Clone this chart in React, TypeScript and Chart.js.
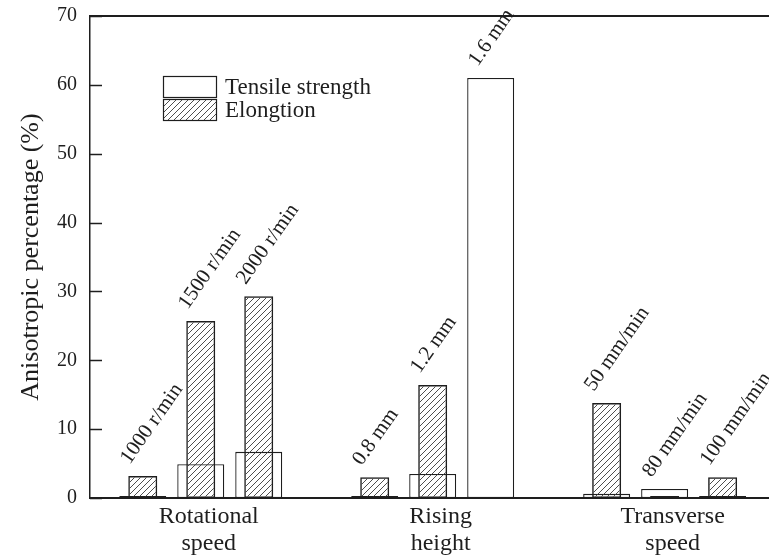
import React, { useEffect, useRef } from 'react';
import { Chart, registerables } from 'chart.js';

Chart.register(...registerables);

// ---- data ----
const groupNames: string[][] = [['Rotational', 'speed'], ['Rising', 'height'], ['Transverse', 'speed']];
const groupCenters = [2, 6, 10];
const barPositions = [1, 2, 3, 5, 6, 7, 9, 10, 11];
const barLabels = ['1000 r/min', '1500 r/min', '2000 r/min', '0.8 mm', '1.2 mm', '1.6 mm', '50 mm/min', '80 mm/min', '100 mm/min'];
const tensileStrength = [0.3, 4.9, 6.7, 0.3, 3.5, 61.0, 0.6, 1.3, 0.3];
const elongation: (number | null)[] = [3.2, 25.7, 29.3, 3.0, 16.4, null, 13.8, 0.3, 3.0];
const yTicks = [0, 10, 20, 30, 40, 50, 60, 70];
const seriesNames = ['Tensile strength', 'Elongtion'];
const yTitle = 'Anisotropic percentage (%)';

const FONT = '"Liberation Serif", "Times New Roman", serif';
const INK = '#1e1e1e';

function makeHatch(ctx: CanvasRenderingContext2D): CanvasPattern | string {
  const p = document.createElement('canvas');
  p.width = 6;
  p.height = 6;
  const c = p.getContext('2d');
  if (!c) return '#999';
  c.strokeStyle = '#3a3a3a';
  c.lineWidth = 0.9;
  c.beginPath();
  c.moveTo(0, 6); c.lineTo(6, 0);
  c.moveTo(-3, 3); c.lineTo(3, -3);
  c.moveTo(3, 9); c.lineTo(9, 3);
  c.stroke();
  return ctx.createPattern(p, 'repeat') || '#999';
}

export default function App() {
  const ref = useRef<HTMLCanvasElement | null>(null);

  useEffect(() => {
    const canvas = ref.current;
    if (!canvas) return;
    const ctx = canvas.getContext('2d');
    if (!ctx) return;
    const hatch = makeHatch(ctx);

    const labelPlugin = {
      id: 'barLabels',
      afterDatasetsDraw(chart: any) {
        const c = chart.ctx;
        const xs = chart.scales.x;
        const ys = chart.scales.y;
        c.save();
        c.font = `21px ${FONT}`;
        c.fillStyle = INK;
        c.textAlign = 'left';
        c.textBaseline = 'alphabetic';
        barLabels.forEach((lab, i) => {
          const top = Math.max(tensileStrength[i] ?? 0, elongation[i] ?? 0);
          const px = xs.getPixelForValue(barPositions[i]);
          const py = ys.getPixelForValue(top);
          c.save();
          c.translate(px - 13, py - 11);
          c.rotate((-55 * Math.PI) / 180);
          c.fillText(lab, 0, 0);
          c.restore();
        });
        c.restore();
      },
    };

    const decorPlugin = {
      id: 'decor',
      afterDraw(chart: any) {
        const c = chart.ctx;
        const ys = chart.scales.y;
        const area = chart.chartArea;
        c.save();
        // inward ticks on y axis
        c.strokeStyle = INK;
        c.lineWidth = 1.5;
        ys.ticks.forEach((t: any) => {
          const y = Math.round(ys.getPixelForValue(t.value)) + 0.5;
          c.beginPath();
          c.moveTo(area.left, y);
          c.lineTo(area.left + 12, y);
          c.stroke();
        });
        // legend
        const lx = area.left + 73;
        const ly = area.top + 60;
        const w = 53;
        const h = 21;
        c.fillStyle = '#ffffff';
        c.fillRect(lx, ly, w, h);
        c.lineWidth = 1.2;
        c.strokeStyle = INK;
        c.strokeRect(lx + 0.5, ly + 0.5, w, h);
        c.fillStyle = hatch;
        c.fillRect(lx, ly + h + 2, w, h);
        c.strokeRect(lx + 0.5, ly + h + 2.5, w, h);
        c.fillStyle = INK;
        c.font = `23px ${FONT}`;
        c.textAlign = 'left';
        c.textBaseline = 'middle';
        c.fillText(seriesNames[0], lx + w + 9, ly + h / 2 + 1);
        c.fillText(seriesNames[1], lx + w + 9, ly + h + 2 + h / 2 + 1);
        c.restore();
      },
    };

    const chart = new Chart(canvas, {
      type: 'bar',
      data: {
        datasets: [
          {
            label: seriesNames[1],
            data: barPositions.map((x, i) => ({ x, y: elongation[i] })),
            backgroundColor: hatch as any,
            borderColor: INK,
            borderWidth: 1.5,
            borderSkipped: false,
            barPercentage: 0.5,
            categoryPercentage: 1,
            grouped: false,
            order: 1,
          } as any,
          {
            label: seriesNames[0],
            data: barPositions.map((x, i) => ({ x, y: tensileStrength[i] })),
            backgroundColor: '#ffffff',
            borderColor: INK,
            borderWidth: 1.3,
            borderSkipped: false,
            barPercentage: 0.81,
            categoryPercentage: 1,
            grouped: false,
            order: 2,
          } as any,
        ],
      },
      options: {
        animation: false,
        responsive: false,
        devicePixelRatio: 1,
        layout: { padding: 0 },
        plugins: {
          legend: { display: false },
          tooltip: { enabled: false },
        },
        scales: {
          x: {
            type: 'linear',
            position: 'bottom',
            min: 0.09,
            max: 11.8,
            offset: false,
            afterBuildTicks: (s: any) => {
              s.ticks = groupCenters.map((v) => ({ value: v }));
            },
            afterFit: (s: any) => {
              s.height = 58;
            },
            ticks: {
              autoSkip: false,
              maxRotation: 0,
              minRotation: 0,
              padding: 6,
              labelOffset: 8,
              color: INK,
              font: { family: FONT, size: 24, lineHeight: 1.1 },
              callback: (v: any) => groupNames[groupCenters.indexOf(Number(v))] || '',
            },
            grid: { display: false, drawTicks: false },
            border: { display: true, color: INK, width: 2 },
          },
          x2: {
            type: 'linear',
            position: 'top',
            min: 0.09,
            max: 11.8,
            offset: false,
            afterFit: (s: any) => {
              s.height = 16;
            },
            ticks: { display: false },
            grid: { display: false, drawTicks: false },
            border: { display: true, color: INK, width: 2 },
          },
          y: {
            type: 'linear',
            position: 'left',
            min: 0,
            max: 70,
            afterBuildTicks: (s: any) => {
              s.ticks = yTicks.map((v) => ({ value: v }));
            },
            afterFit: (s: any) => {
              s.width = 90;
              s.paddingTop = 8;
              s.paddingBottom = 8;
            },
            ticks: {
              padding: 13,
              color: INK,
              font: { family: FONT, size: 20 },
            },
            grid: { display: false, drawTicks: false },
            border: { display: true, color: INK, width: 1.5 },
            title: {
              display: true,
              text: yTitle,
              color: INK,
              font: { family: FONT, size: 26 },
              padding: { top: 16, bottom: 0 },
            },
          },
        },
      } as any,
      plugins: [labelPlugin, decorPlugin],
    });

    return () => chart.destroy();
  }, []);

  return (
    <div style={{ position: 'fixed', left: 0, top: 0, width: 769, height: 556, overflow: 'hidden', background: '#fff' }}>
      <canvas ref={ref} width={769} height={556} style={{ display: 'block' }} />
    </div>
  );
}
